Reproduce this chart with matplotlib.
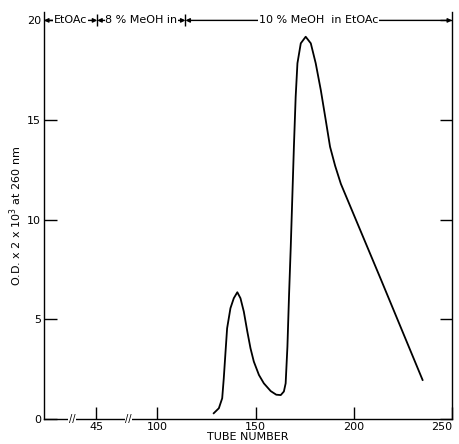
import matplotlib
matplotlib.use("Agg")
import matplotlib.pyplot as plt

# elution profile
tube = [128.7, 131.3, 133.0, 133.8, 134.7, 135.5, 137.2, 138.9, 140.7, 142.3,
        144.0, 145.8, 147.4, 149.1, 151.7, 154.2, 157.7, 160.5, 162.8, 164.4,
        165.3, 166.2, 167.0, 167.9, 168.7, 169.5, 170.4, 171.3, 173.0, 175.5,
        178.1, 180.6, 183.2, 185.7, 187.9, 190.5, 193.4, 213.8, 235.0]
od = [0.29, 0.54, 1.04, 2.04, 3.38, 4.55, 5.56, 6.06, 6.36, 6.06,
      5.39, 4.38, 3.55, 2.88, 2.21, 1.79, 1.40, 1.22, 1.20, 1.38,
      1.79, 3.63, 6.14, 8.65, 11.15, 13.66, 16.17, 17.85, 18.85, 19.18,
      18.85, 17.85, 16.5, 15.0, 13.66, 12.7, 11.8, 7.0, 1.96]

# broken x axis: tick positions on the drawn scale and their labels
x_tick_pos = [69.0, 100, 150, 200, 250]
x_tick_labels = ['45', '100', '150', '200', '250']
break_pos = [56.6, 85.2]
y_ticks = [0, 5, 10, 15, 20]

# solvent steps along the top
step_edges = [42.3, 69.4, 114.3, 250.0]
step_labels = ['EtOAc', '8 % MeOH in', '10 % MeOH  in EtOAc']

fig = plt.figure(figsize=(4.6, 4.44), dpi=100)
ax = fig.add_axes([0.0957, 0.0563, 0.887, 0.9157])

ax.plot(tube, od, color='black', linewidth=1.3)

ax.set_xlim(step_edges[0], step_edges[-1])
ax.set_ylim(0, 20.4)
ax.spines['top'].set_visible(False)
for s in ['left', 'right', 'bottom']:
    ax.spines[s].set_linewidth(1.0)

ax.set_xticks(x_tick_pos)
ax.set_xticklabels(x_tick_labels)
ax.get_xticklabels()[-1].set_horizontalalignment('right')
ax.set_yticks(y_ticks)
ax.tick_params(axis='both', direction='in', length=9, width=1.0,
               labelsize=8, pad=2)
ax.tick_params(axis='y', right=True)

# axis break marks
for b in break_pos:
    ax.text(b, 0, '//', ha='center', va='center', fontsize=7,
            bbox=dict(facecolor='white', edgecolor='none', pad=0.3))

# solvent step arrows
y_top = 20
for i, lab in enumerate(step_labels):
    x0, x1 = step_edges[i], step_edges[i + 1]
    ax.annotate('', xy=(x0, y_top), xytext=(x1, y_top),
                arrowprops=dict(arrowstyle='<|-|>', color='black', lw=1.0,
                                shrinkA=0, shrinkB=0, mutation_scale=6))
    ax.text((x0 + x1) / 2, y_top, lab, ha='center', va='center',
            fontsize=8, bbox=dict(facecolor='white', edgecolor='none', pad=0.5))
ax.vlines(step_edges[1:3], y_top - 0.3, y_top + 0.3, color='black', lw=1.0)

ax.set_xlabel('TUBE NUMBER', fontsize=8, labelpad=0)
ax.set_ylabel('O.D. x 2 x 10$^3$ at 260 nm', fontsize=8, labelpad=2)

fig.savefig('out.png', dpi=100)
